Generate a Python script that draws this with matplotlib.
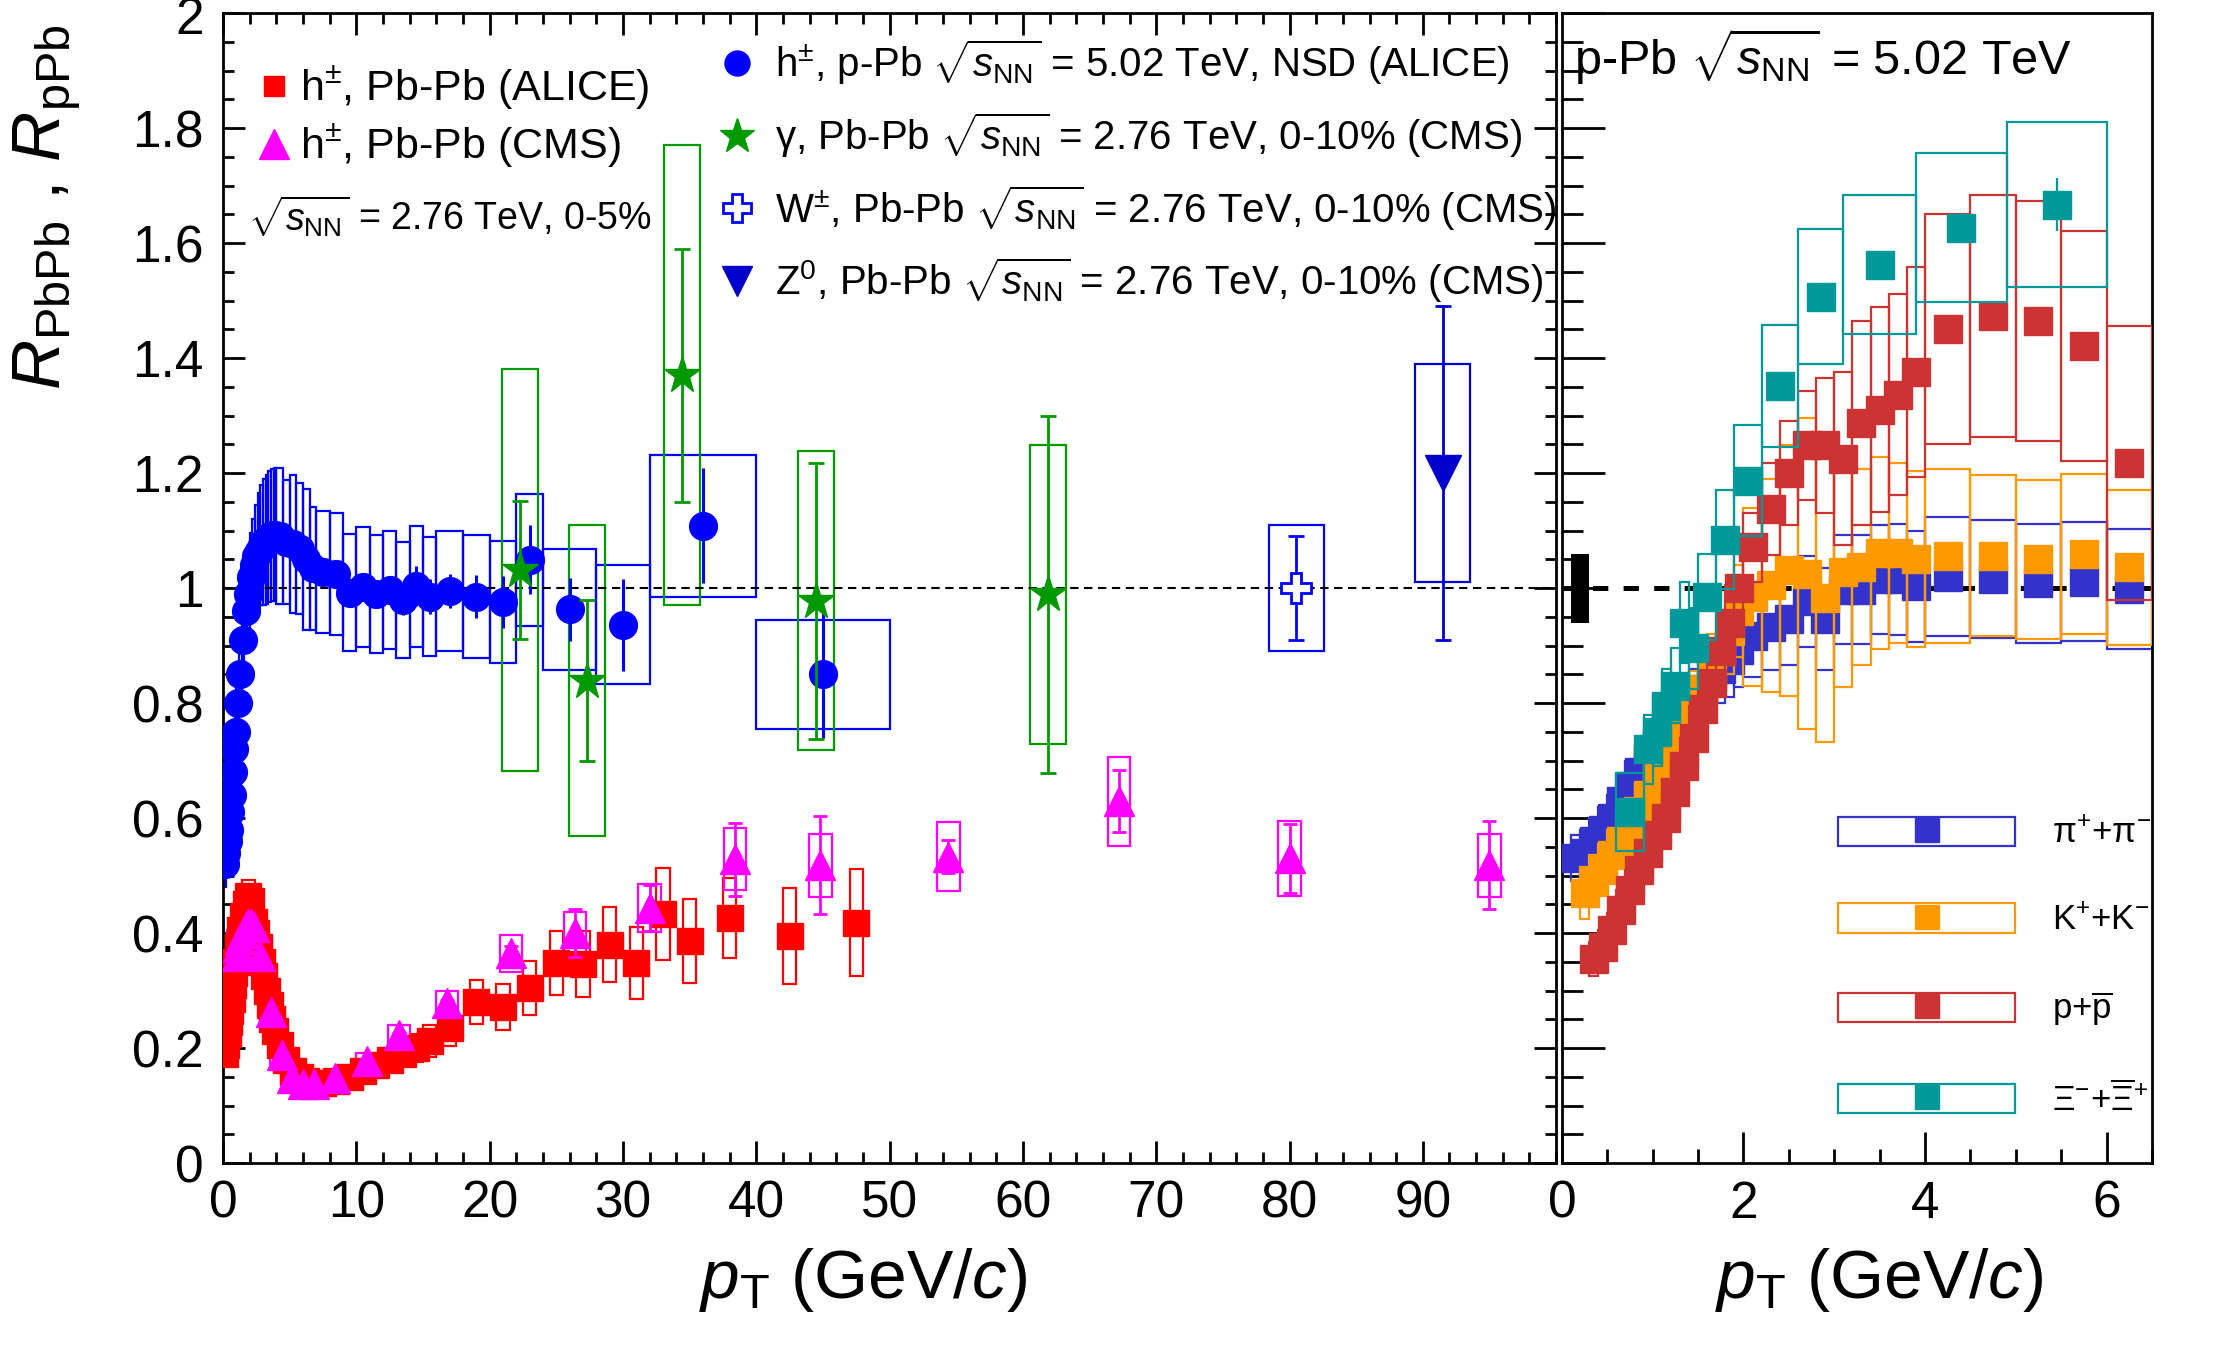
import numpy as np
import matplotlib
matplotlib.use('Agg')
import matplotlib.pyplot as plt
from matplotlib.lines import Line2D
from matplotlib.patches import Rectangle
from matplotlib.legend_handler import HandlerTuple
from matplotlib.ticker import MultipleLocator, FormatStrFormatter
from matplotlib.transforms import ScaledTranslation

plt.rcParams['font.family'] = ['Liberation Sans', 'DejaVu Sans']
plt.rcParams['mathtext.fontset'] = 'custom'
plt.rcParams['mathtext.rm'] = 'Liberation Sans'
plt.rcParams['mathtext.it'] = 'Liberation Sans:italic'
plt.rcParams['mathtext.bf'] = 'Liberation Sans:bold'
plt.rcParams['lines.scale_dashes'] = False

# ─────────────────────────────────────────
#  LEFT PANEL DATA
# ─────────────────────────────────────────
# ALICE h+- p-Pb 5.02 TeV NSD  (bin edges, R, stat, sys)
ppb_edges = [0.15, 0.2, 0.3, 0.4, 0.5, 0.6, 0.7, 0.8, 0.9, 1.0, 1.2, 1.4, 1.6, 1.8,
             2.0, 2.2, 2.4, 2.6, 2.8, 3.0, 3.2, 3.4, 3.6, 3.8, 4.0, 4.5, 5.0, 5.5,
             6.0, 6.5, 7.0, 8.0, 9.0, 10, 11, 12, 13, 14, 15, 16, 18, 20, 22, 24,
             28, 32, 40, 50]
ppb_r = [0.52, 0.54, 0.56, 0.58, 0.61, 0.64, 0.68, 0.72, 0.75,
         0.80, 0.85, 0.91, 0.96, 0.99,
         1.02, 1.04, 1.055, 1.065, 1.075,
         1.08, 1.085, 1.09, 1.092, 1.093,
         1.09, 1.08, 1.077, 1.068, 1.05, 1.034,
         1.028, 1.025, 0.992,
         1.002, 0.99, 0.997, 0.979, 1.003, 0.985,
         0.995, 0.985, 0.976, 1.049,
         0.963, 0.936, 1.108, 0.85]
ppb_stat = [0.004, 0.004, 0.004, 0.004, 0.004, 0.004, 0.004, 0.004, 0.004,
            0.004, 0.004, 0.004, 0.004, 0.005,
            0.005, 0.005, 0.005, 0.005, 0.006,
            0.006, 0.006, 0.007, 0.007, 0.008,
            0.008, 0.009, 0.01, 0.011, 0.012, 0.013,
            0.012, 0.015, 0.017,
            0.02, 0.022, 0.024, 0.026, 0.035, 0.03,
            0.03, 0.037, 0.045, 0.06,
            0.055, 0.08, 0.10, 0.11]
ppb_sys = [0.04, 0.04, 0.04, 0.04, 0.045, 0.045, 0.05, 0.05, 0.055,
           0.055, 0.06, 0.065, 0.07, 0.072,
           0.076, 0.08, 0.09, 0.10, 0.105,
           0.11, 0.112, 0.114, 0.115, 0.116,
           0.118, 0.108, 0.12, 0.114, 0.123, 0.107,
           0.106, 0.106, 0.102,
           0.105, 0.103, 0.1025, 0.101, 0.105, 0.103,
           0.104, 0.1065, 0.106, 0.115,
           0.1055, 0.1035, 0.123, 0.095]

# ALICE h+- Pb-Pb 2.76 TeV 0-5%
aa_pt = [0.175, 0.25, 0.35, 0.45, 0.55, 0.65, 0.75, 0.85, 0.95,
         1.1, 1.3, 1.5, 1.7, 1.9, 2.1, 2.3, 2.5, 2.7, 2.9,
         3.1, 3.3, 3.5, 3.7, 3.9, 4.25, 4.75, 5.25, 5.75, 6.25, 6.75,
         7.5, 8.5, 9.5, 10.5, 11.5, 12.5, 13.5, 14.5, 15.5,
         17, 19, 21, 23, 25, 27, 29, 31, 33, 35, 38, 42.5, 47.5]
aa_r = [0.19, 0.205, 0.225, 0.245, 0.265, 0.285, 0.31, 0.33, 0.35,
        0.375, 0.405, 0.43, 0.45, 0.465,
        0.455, 0.42, 0.40, 0.375, 0.35,
        0.325, 0.30, 0.275, 0.25, 0.23,
        0.205, 0.18, 0.16, 0.15, 0.143, 0.14,
        0.14, 0.143, 0.15,
        0.16, 0.17, 0.18, 0.19, 0.2, 0.212,
        0.235, 0.28, 0.272, 0.305, 0.348, 0.346, 0.38, 0.348, 0.433, 0.386,
        0.426, 0.395, 0.418]
aa_sys = [0.015, 0.015, 0.016, 0.017, 0.018, 0.019, 0.02, 0.021, 0.022,
          0.023, 0.025, 0.026, 0.027, 0.028,
          0.028, 0.026, 0.025, 0.024, 0.022,
          0.021, 0.02, 0.018, 0.017, 0.016,
          0.015, 0.013, 0.012, 0.011, 0.011, 0.011,
          0.011, 0.011, 0.012,
          0.013, 0.014, 0.016, 0.02, 0.025, 0.028,
          0.032, 0.039, 0.04, 0.047, 0.055, 0.057, 0.066, 0.063, 0.08, 0.073,
          0.07, 0.083, 0.093]

# CMS h+- Pb-Pb 2.76 TeV 0-5%
cms_pt = [1.05, 1.15, 1.3, 1.5, 1.7, 1.9, 2.1, 2.3, 2.8, 3.6, 4.4, 5.2, 6.0, 6.8,
          8.4, 10.8, 13.2, 16.8, 21.6, 26.4, 32.0, 38.4, 44.8, 54.4, 67.2, 80.0, 95.0]
cms_r = [0.36, 0.375, 0.39, 0.40, 0.41, 0.415, 0.415, 0.41, 0.36, 0.263, 0.187, 0.148,
         0.137, 0.137, 0.148, 0.178, 0.222, 0.278, 0.365, 0.40, 0.444, 0.528, 0.518,
         0.533, 0.629, 0.530, 0.518]
cms_stat = [0.003, 0.003, 0.003, 0.003, 0.003, 0.003, 0.003, 0.003, 0.003, 0.002,
            0.002, 0.002, 0.002, 0.002, 0.002, 0.003, 0.004, 0.006, 0.012, 0.042,
            0.04, 0.064, 0.085, 0.028, 0.054, 0.06, 0.077]
cms_sys = [0.03, 0.03, 0.03, 0.03, 0.03, 0.03, 0.03, 0.03, 0.028, 0.02, 0.015, 0.012,
           0.011, 0.011, 0.012, 0.014, 0.018, 0.022, 0.032, 0.037, 0.042, 0.054,
           0.055, 0.06, 0.078, 0.065, 0.055]

# CMS isolated photons, W, Z  Pb-Pb 0-10%
gam_pt = [22.3, 27.3, 34.4, 44.5, 61.9]
gam_r = [1.031, 0.839, 1.370, 0.978, 0.989]
gam_stat = [0.12, 0.14, 0.22, 0.24, 0.31]
gam_sys = [0.35, 0.27, 0.40, 0.26, 0.26]

w_pt, w_r, w_stat, w_sys = [80.5], [1.0], [0.09], [0.11]
z_pt, z_r, z_stat, z_sys = [91.5], [1.2], [0.29], [0.19]

# ─────────────────────────────────────────
#  RIGHT PANEL DATA  (identified particles, p-Pb 5.02 TeV)
# ─────────────────────────────────────────
pid_edges = [0.1, 0.2, 0.3, 0.4, 0.5, 0.6, 0.7, 0.8, 0.9, 1.0, 1.1, 1.2, 1.3, 1.4,
             1.5, 1.6, 1.7, 1.8, 1.9, 2.0, 2.2, 2.4, 2.6, 2.8, 3.0, 3.2, 3.4, 3.6,
             3.8, 4.0, 4.5, 5.0, 5.5, 6.0, 6.5]
pi_r = [0.53, 0.54, 0.56, 0.58, 0.60, 0.63, 0.655, 0.68, 0.70, 0.725, 0.745, 0.765,
        0.785, 0.805, 0.825, 0.845, 0.86, 0.875, 0.893,
        0.916, 0.933, 0.947, 0.977, 0.946, 0.997, 0.997, 1.015, 1.015, 1.003,
        1.02, 1.016, 1.008, 1.011, 0.998]
pi_sys = [0.04, 0.04, 0.04, 0.04, 0.04, 0.045, 0.045, 0.045, 0.05, 0.05, 0.05, 0.055,
          0.055, 0.055, 0.06, 0.06, 0.06, 0.065, 0.065,
          0.07, 0.075, 0.08, 0.079, 0.088, 0.095, 0.095, 0.095, 0.096, 0.096,
          0.104, 0.103, 0.103, 0.103, 0.104]
k_r = [0.47, 0.49, 0.51, 0.535, 0.56, 0.585, 0.61, 0.64, 0.67, 0.70, 0.73, 0.76,
       0.795, 0.825, 0.855, 0.89, 0.925, 0.96,
       0.985, 1.005, 1.031, 1.025, 0.982, 1.028, 1.037, 1.061, 1.061, 1.05,
       1.056, 1.056, 1.05, 1.059, 1.036]
k_sys = [0.045, 0.045, 0.045, 0.045, 0.045, 0.05, 0.05, 0.05, 0.05, 0.055, 0.055,
         0.06, 0.06, 0.065, 0.065, 0.07, 0.075, 0.08,
         0.155, 0.185, 0.218, 0.27, 0.25, 0.2, 0.17, 0.167, 0.157, 0.153,
         0.151, 0.14, 0.138, 0.139, 0.135]
p_r = [0.355, 0.375, 0.405, 0.44, 0.475, 0.51, 0.54, 0.57, 0.60, 0.645, 0.69, 0.74,
       0.79, 0.835, 0.89, 0.94, 1.0,
       1.071, 1.138, 1.20, 1.248, 1.248, 1.225, 1.287, 1.31, 1.336, 1.376,
       1.45, 1.473, 1.464, 1.421, 1.217]
p_sys = [0.03, 0.03, 0.03, 0.035, 0.035, 0.04, 0.04, 0.045, 0.045, 0.05, 0.05, 0.055,
         0.055, 0.06, 0.06, 0.065, 0.065,
         0.06, 0.08, 0.09, 0.095, 0.117, 0.15, 0.177, 0.178, 0.175, 0.183,
         0.2, 0.21, 0.209, 0.2, 0.238]
xi_edges = [0.6, 0.9, 1.0, 1.1, 1.2, 1.3, 1.4, 1.5, 1.7, 1.9, 2.2, 2.6, 3.1, 3.9, 4.9, 6.0]
xi_r = [0.61, 0.72, 0.75, 0.795, 0.83, 0.94, 0.895, 0.985, 1.084, 1.187, 1.352,
        1.507, 1.562, 1.627, 1.667]
xi_stat = [0.01, 0.01, 0.01, 0.01, 0.01, 0.01, 0.01, 0.012, 0.012, 0.014, 0.016,
           0.02, 0.02, 0.026, 0.046]
xi_sys = [0.068, 0.06, 0.06, 0.065, 0.065, 0.07, 0.07, 0.075, 0.086, 0.096, 0.106,
          0.118, 0.121, 0.129, 0.143]
norm_unc = 0.06

pid_labels = [r'π$^{+}$+π$^{-}$', r'K$^{+}$+K$^{-}$', r'p+$\overline{\mathrm{p}}$',
              r'$\Xi^{-}$+$\overline{\Xi}^{+}$']

# colours
C_PI, C_K, C_P, C_XI = '#3333cc', '#ff9900', '#cc3333', '#009999'
C_GAM, C_Z = '#009900', '#0000cc'


def boxes(ax, x, y, sys, width, color, lw=1.6, z=2):
    y = np.asarray(y, float)
    sys = np.asarray(sys, float)
    ax.bar(x, 2 * sys, width=width, bottom=y - sys, fill=False,
           edgecolor=color, linewidth=lw, zorder=z)


def centers(edges):
    e = np.asarray(edges, float)
    return 0.5 * (e[1:] + e[:-1]), np.diff(e)


fig = plt.figure(figsize=(22.24, 13.62), dpi=100)
ax1 = fig.add_axes([0.1003, 0.1461, 0.5994, 0.8443])
ax2 = fig.add_axes([0.7023, 0.1461, 0.2653, 0.8443])

# ─────────────────────────────────────────
#  LEFT PANEL
# ─────────────────────────────────────────
ax1.axhline(1.0, color='black', lw=1.5, ls=(0, (6, 4)), zorder=2.5)

boxes(ax1, aa_pt, aa_r, aa_sys, 1.0, 'red')
ax1.plot(aa_pt, aa_r, 's', color='red', ms=19, zorder=3)

boxes(ax1, cms_pt, cms_r, cms_sys, 1.7, 'magenta')
ax1.errorbar(cms_pt, cms_r, yerr=cms_stat, fmt='^', color='magenta', ms=22,
             elinewidth=2, capsize=5, capthick=2, zorder=4)

ppb_x, ppb_w = centers(ppb_edges)
boxes(ax1, ppb_x, ppb_r, ppb_sys, ppb_w, 'blue')
ax1.errorbar(ppb_x, ppb_r, yerr=ppb_stat, fmt='o', color='blue', ms=20,
             elinewidth=2.2, capsize=0, zorder=5)

boxes(ax1, gam_pt, gam_r, gam_sys, 2.7, C_GAM, z=2.2)
ax1.errorbar(gam_pt, gam_r, yerr=gam_stat, fmt='*', color=C_GAM, ms=28,
             elinewidth=2, capsize=6, capthick=2, zorder=6)

boxes(ax1, w_pt, w_r, w_sys, 4.1, 'blue')
ax1.errorbar(w_pt, w_r, yerr=w_stat, fmt='P', color='blue', mfc='white', mew=2,
             ms=21, elinewidth=2, capsize=6, capthick=2, zorder=6)
boxes(ax1, z_pt, z_r, z_sys, 4.1, C_Z)
ax1.errorbar(z_pt, z_r, yerr=z_stat, fmt='v', color=C_Z, ms=26,
             elinewidth=2, capsize=6, capthick=2, zorder=6)

ax1.set_xlim(0, 100)
ax1.set_ylim(0, 2)

# legends
h_aa = Line2D([], [], ls='none', marker='s', color='red', ms=15)
h_cms = Line2D([], [], ls='none', marker='^', color='magenta', ms=22)
leg1 = ax1.legend([h_aa, h_cms],
                  [r'h$^{\pm}$, Pb-Pb (ALICE)', r'h$^{\pm}$, Pb-Pb (CMS)'],
                  loc='upper left', bbox_to_anchor=(0.0255, 0.955), frameon=False,
                  fontsize=31, handlelength=0.8, handletextpad=0.2,
                  labelspacing=0.24, borderpad=0, borderaxespad=0)
ax1.add_artist(leg1)
ax1.text(0.019, 0.823, r'$\sqrt{s_{\mathrm{NN}}}$ = 2.76 TeV, 0-5%',
         transform=ax1.transAxes, fontsize=27, va='center', ha='left')

h_ppb = Line2D([], [], ls='none', marker='o', color='blue', ms=18)
h_gam = Line2D([], [], ls='none', marker='*', color=C_GAM, ms=26)
h_w = Line2D([], [], ls='none', marker='P', color='blue', mfc='white', mew=2, ms=20)
h_z = Line2D([], [], ls='none', marker='v', color=C_Z, ms=21)
labels2 = [r'h$^{\pm}$, p-Pb $\sqrt{s_{\mathrm{NN}}}$ = 5.02 TeV, NSD (ALICE)',
           r'γ, Pb-Pb $\sqrt{s_{\mathrm{NN}}}$ = 2.76 TeV, 0-10% (CMS)',
           r'W$^{\pm}$, Pb-Pb $\sqrt{s_{\mathrm{NN}}}$ = 2.76 TeV, 0-10% (CMS)',
           r'Z$^{0}$, Pb-Pb $\sqrt{s_{\mathrm{NN}}}$ = 2.76 TeV, 0-10% (CMS)']
ax1.legend([h_ppb, h_gam, h_w, h_z], labels2, loc='upper left',
           bbox_to_anchor=(0.3706, 0.979), frameon=False, fontsize=29,
           handlelength=1.0, handletextpad=0.43, labelspacing=0.57,
           borderpad=0, borderaxespad=0)

# ─────────────────────────────────────────
#  RIGHT PANEL
# ─────────────────────────────────────────
pid_x, pid_w = centers(pid_edges)
xi_x, xi_w = centers(xi_edges)

ax2.axhline(1.0, color='black', lw=3.6, ls=(0, (11, 11)), zorder=2.5)
ax2.bar(0.2, 2 * norm_unc, bottom=1 - norm_unc, width=0.2, color='black', zorder=7)

boxes(ax2, pid_x, pi_r, pi_sys, pid_w, C_PI, z=2)
ax2.plot(pid_x, pi_r, 's', color=C_PI, ms=20, zorder=3)
boxes(ax2, pid_x[1:], k_r, k_sys, pid_w[1:], C_K, z=3.1)
ax2.plot(pid_x[1:], k_r, 's', color=C_K, ms=20, zorder=3.2)
boxes(ax2, pid_x[2:], p_r, p_sys, pid_w[2:], C_P, z=3.3)
ax2.plot(pid_x[2:], p_r, 's', color=C_P, ms=20, zorder=3.4)
boxes(ax2, xi_x, xi_r, xi_sys, xi_w, C_XI, z=3.5)
ax2.errorbar(xi_x, xi_r, yerr=xi_stat, fmt='s', color=C_XI, ms=20,
             elinewidth=1.6, capsize=0, zorder=3.6)

ax2.set_xlim(0, 6.5)
ax2.set_ylim(0, 2)

ax2.text(0.02, 0.962, r'p-Pb $\sqrt{s_{\mathrm{NN}}}$ = 5.02 TeV',
         transform=ax2.transAxes, fontsize=35, va='center', ha='left')

handles3 = [(Rectangle((0, 0), 1, 1, fill=False, edgecolor=c, lw=1.6),
             Line2D([], [], ls='none', marker='s', color=c, ms=17))
            for c in (C_PI, C_K, C_P, C_XI)]
ax2.legend(handles3, pid_labels,
           handler_map={tuple: HandlerTuple(ndivide=1, pad=0)},
           loc='upper left', bbox_to_anchor=(0.468, 0.301), frameon=False,
           fontsize=25, handlelength=5.1, handleheight=0.92, handletextpad=1.07,
           labelspacing=1.52, borderpad=0, borderaxespad=0)

# ─────────────────────────────────────────
#  AXES STYLE
# ─────────────────────────────────────────
for ax in (ax1, ax2):
    ax.set_yticks(np.arange(0, 2.01, 0.2))
    ax.yaxis.set_minor_locator(MultipleLocator(0.05))
    ax.yaxis.set_major_formatter(FormatStrFormatter('%g'))
    ax.xaxis.set_major_formatter(FormatStrFormatter('%g'))
    for s in ax.spines.values():
        s.set_linewidth(2)

ax1.set_xticks(np.arange(0, 100, 10))
ax1.xaxis.set_minor_locator(MultipleLocator(2))
ax1.tick_params(which='both', direction='in', top=True, right=True, width=2,
                labelsize=37)
ax1.tick_params(which='major', length=16)
ax1.tick_params(which='minor', length=8)
ax1.tick_params(axis='x', pad=12)
ax1.tick_params(axis='y', pad=14)

ax2.set_xticks([0, 2, 4, 6])
ax2.xaxis.set_minor_locator(MultipleLocator(0.5))
ax2.tick_params(which='both', direction='in', top=False, right=False, left=True,
                labelleft=False, width=2, labelsize=37)
ax2.tick_params(axis='y', which='major', length=31)
ax2.tick_params(axis='y', which='minor', length=15)
ax2.tick_params(axis='x', which='major', length=22, pad=12)
ax2.tick_params(axis='x', which='minor', length=10)

ax1.set_xlabel(r'$p_{\mathrm{T}}$ (GeV/$c$)', fontsize=50)
ax1.xaxis.set_label_coords(0.48, -0.072)
ax2.set_xlabel(r'$p_{\mathrm{T}}$ (GeV/$c$)', fontsize=50)
ax2.xaxis.set_label_coords(0.537, -0.072)
ax1.set_ylabel(r'$R_{\mathrm{PbPb}}$ , $R_{\mathrm{pPb}}$', fontsize=50, loc='top')
ax1.yaxis.set_label_coords(-0.105, 0.99)

# keep the top "2" label inside the figure, as in the original
top_lab = ax1.yaxis.get_major_ticks()[-1].label1
top_lab.set_verticalalignment('top')
top_lab.set_transform(top_lab.get_transform() +
                      ScaledTranslation(0, 12 / 72, fig.dpi_scale_trans))

fig.savefig('out.png', dpi=100)
